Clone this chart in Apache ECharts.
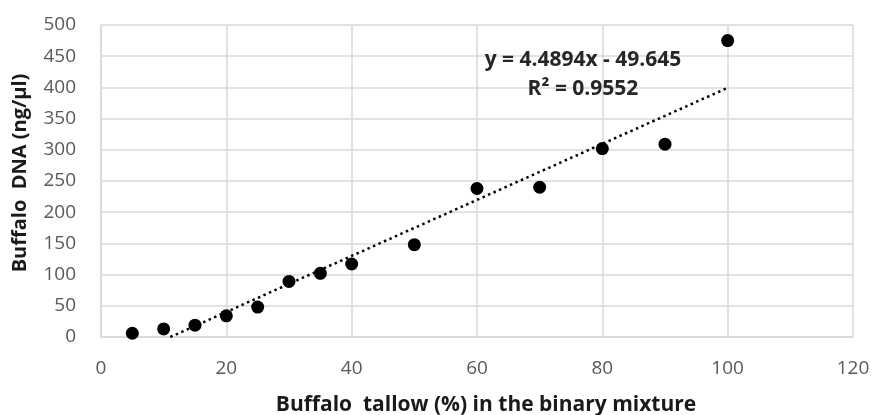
<!DOCTYPE html>
<html>
<head>
<meta charset="utf-8">
<script src="https://cdn.jsdelivr.net/npm/echarts@6/dist/echarts.min.js"></script>
<style>html,body{margin:0;padding:0;background:#fff;}#c{width:873px;height:415px;}</style>
</head>
<body>
<div id="c"></div>
<script>
const tallowPct = [5, 10, 15, 20, 25, 30, 35, 40, 50, 60, 70, 80, 90, 100];
const dnaValues = [6, 13, 19, 34, 48, 89, 102, 117, 148, 238, 240, 302, 309, 475];
const trendX = [11.06, 100];
const trendY = [0, 399.3];
const equationText = 'y = 4.4894x - 49.645';
const r2Text = 'R² = 0.9552';
const xTitle = 'Buffalo  tallow (%) in the binary mixture';
const yTitle = 'Buffalo  DNA (ng/µl)';

const chart = echarts.init(document.getElementById('c'), null, {renderer: 'canvas'});
const font = '"Open Sans", sans-serif';
chart.setOption({
  animation: false,
  backgroundColor: '#fff',
  grid: {left: 101, top: 25, right: 20, bottom: 78, containLabel: false, outerBoundsMode: 'none'},
  xAxis: {
    type: 'value', min: 0, max: 120, interval: 20,
    name: xTitle, nameLocation: 'middle', nameGap: 58,
    nameTextStyle: {fontFamily: font, fontWeight: 'bold', fontSize: 21, color: '#1a1a1a', padding: [0, 0, 0, 18]},
    axisLine: {show: true, lineStyle: {color: '#d9d9d9', width: 1.5}},
    axisTick: {show: false},
    axisLabel: {fontFamily: font, fontSize: 19, color: '#595959', margin: 22},
    splitLine: {show: true, lineStyle: {color: '#d9d9d9', width: 1.5}}
  },
  yAxis: {
    type: 'value', min: 0, max: 500, interval: 50,
    name: yTitle, nameLocation: 'middle', nameGap: 71, nameRotate: 90,
    nameTextStyle: {fontFamily: font, fontWeight: 'bold', fontSize: 20, color: '#1a1a1a', padding: [0, 0, 0, 16]},
    axisLine: {show: true, lineStyle: {color: '#d9d9d9', width: 1.5}},
    axisTick: {show: false},
    axisLabel: {fontFamily: font, fontSize: 19, color: '#595959', margin: 25},
    splitLine: {show: true, lineStyle: {color: '#d9d9d9', width: 1.5}}
  },
  series: [
    {
      type: 'line',
      data: trendX.map((x, i) => [x, trendY[i]]),
      showSymbol: false,
      lineStyle: {color: '#000', width: 2.5, type: [2.5, 3.5]},
      z: 2
    },
    {
      type: 'scatter',
      data: tallowPct.map((x, i) => [x, dnaValues[i]]),
      symbol: 'circle', symbolSize: 13,
      itemStyle: {color: '#000', opacity: 1},
      z: 3
    }
  ],
  graphic: [
    {type: 'text', x: 583, y: 60, z: 10, style: {text: equationText, font: 'bold 21px "Open Sans", sans-serif', fill: '#262626', align: 'center', verticalAlign: 'middle'}},
    {type: 'text', x: 583, y: 89, z: 10, style: {text: r2Text, font: 'bold 21px "Open Sans", sans-serif', fill: '#262626', align: 'center', verticalAlign: 'middle'}}
  ]
});
</script>
</body>
</html>
